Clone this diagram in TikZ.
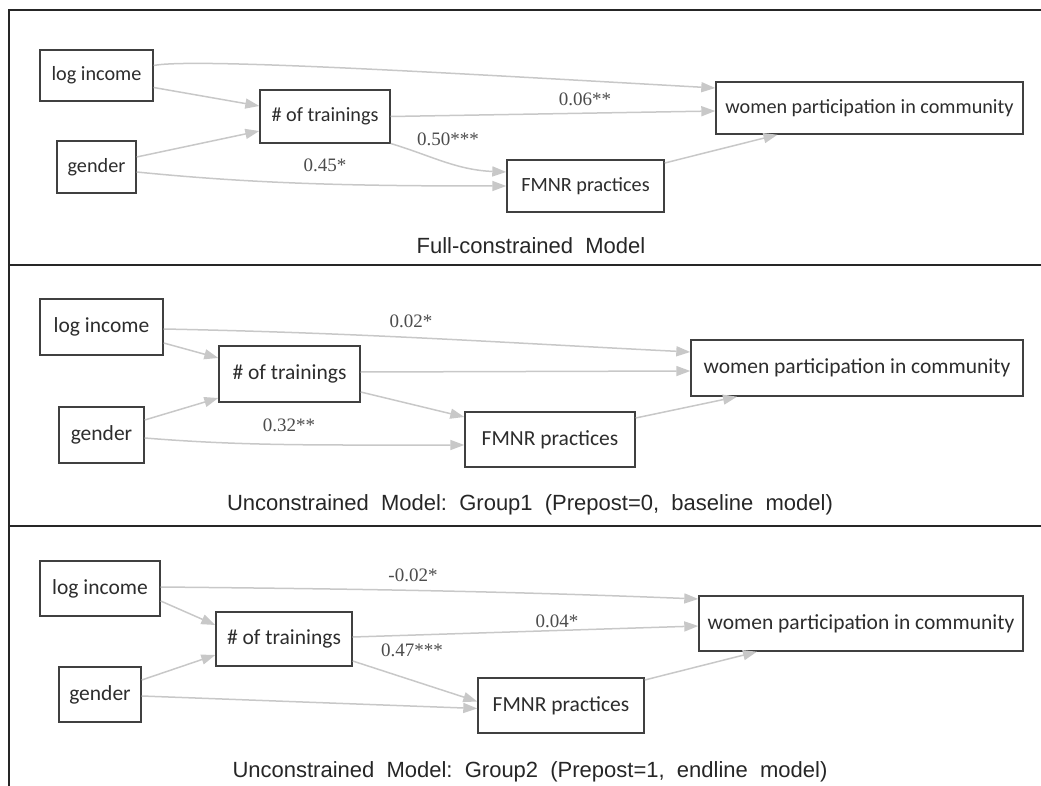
\documentclass[tikz,border=0pt]{standalone}
\usepackage{fontspec}
\usetikzlibrary{arrows.meta}
\newfontfamily\boxfont{Carlito}
\newfontfamily\labfont{Liberation Serif}
\newfontfamily\capfont{Liberation Sans}
\definecolor{arrgray}{RGB}{200,200,200}
\definecolor{boxline}{RGB}{64,64,64}
\definecolor{txtgray}{RGB}{45,45,45}
\tikzset{
  var/.style={draw=boxline, line width=1.4pt, fill=white, inner sep=0pt, text=txtgray,
    font=\boxfont\fontsize{20.2}{23}\selectfont},
  varb/.style={var, font=\boxfont\fontsize{21.5}{25}\selectfont},
  arr/.style={draw=arrgray, line width=1.5pt, -{Triangle[length=14pt,width=10pt]}},
  coef/.style={inner sep=0pt, text=txtgray!85, font=\labfont\fontsize{19}{21}\selectfont},
  captxt/.style={inner sep=0pt, text=black!85, font=\capfont\fontsize{22}{26}\selectfont},
  frameline/.style={draw=black!85, line width=2pt}
}
\begin{document}
\begin{tikzpicture}[x=1pt,y=-1pt]
\useasboundingbox (0,0) rectangle (1041,786);
% frame
\draw[frameline] (1041,10.5) -- (9,10.5) -- (9,786);
\draw[frameline] (9,265) -- (1041,265);
\draw[frameline] (9,526) -- (1041,526);

% ---------- Panel 1 ----------
\node[var, minimum width=113pt, minimum height=51pt] (li1) at (96.5,75.5) {log income};
\node[var, minimum width=130pt, minimum height=53pt] (tr1) at (325,116.5) {\# of trainings};
\node[var, minimum width=79pt, minimum height=52pt] (ge1) at (96.5,167) {gender};
\node[var, minimum width=157pt, minimum height=52pt] (fm1) at (585.5,186) {FMNR practices};
\node[var, minimum width=307pt, minimum height=52pt] (wo1) at (869.5,108) {women participation in community};
\draw[arr] ([yshift=10pt]li1.east) .. controls +(40,-8) and +(-250,-14) .. ([yshift=20pt]wo1.west);
\draw[arr] ([yshift=-12pt]li1.east) -- ([yshift=10.5pt]tr1.west);
\draw[arr] ([yshift=10pt]ge1.east) -- ([yshift=-14.5pt]tr1.west);
\draw[arr] ([yshift=-5pt]ge1.east) .. controls +(120,12) and +(-150,0) .. (fm1.west);
\draw[arr] (tr1.east) -- ([yshift=-3pt]wo1.west);
\draw[arr] ([yshift=-27pt]tr1.east) .. controls +(40,12) and +(-50,-2) .. ([yshift=14pt]fm1.west);
\draw[arr] ([yshift=23pt]fm1.east) -- ([xshift=-92pt]wo1.south);
\node[coef] (c1a) at (585,99) {0.06**};
\node[coef] (c1b) at (448,139) {0.50***};
\node[coef] (c1c) at (325,165) {0.45*};
\node[captxt] (cap1) at (531,246) {Full-constrained\ \ Model};

% ---------- Panel 2 ----------
\node[varb, minimum width=123pt, minimum height=56pt] (li2) at (101.5,327) {log income};
\node[varb, minimum width=141pt, minimum height=56pt] (tr2) at (289.5,374) {\# of trainings};
\node[varb, minimum width=85pt, minimum height=56pt] (ge2) at (101.5,435) {gender};
\node[varb, minimum width=170pt, minimum height=55pt] (fm2) at (550,439.5) {FMNR practices};
\node[varb, minimum width=332pt, minimum height=56pt] (wo2) at (857,368) {women participation in community};
\draw[arr] ([yshift=-2pt]li2.east) .. controls +(200,4) and +(-200,-10) .. ([yshift=16pt]wo2.west);
\draw[arr] ([yshift=-16pt]li2.east) -- ([yshift=16pt]tr2.west);
\draw[arr] ([yshift=15pt]ge2.east) -- ([yshift=-24pt]tr2.west);
\draw[arr] ([yshift=-3pt]ge2.east) .. controls +(100,8) and +(-150,0) .. ([yshift=-5.5pt]fm2.west);
\draw[arr] ([yshift=2pt]tr2.east) -- ([yshift=-3pt]wo2.west);
\draw[arr] ([yshift=-18pt]tr2.east) -- ([yshift=22.5pt]fm2.west);
\draw[arr] ([yshift=21.5pt]fm2.east) -- ([xshift=-120pt]wo2.south);
\node[coef] (c2a) at (411,321) {0.02*};
\node[coef] (c2b) at (289,425) {0.32**};
\node[captxt] (cap2) at (530,505) {Unconstrained\ \ Model:\ \ Group1\ \ (Prepost=0,\ \ baseline\ \ model)};

% ---------- Panel 3 ----------
\node[varb, minimum width=120pt, minimum height=55pt] (li3) at (100,588.5) {log income};
\node[varb, minimum width=136pt, minimum height=54pt] (tr3) at (284,639) {\# of trainings};
\node[varb, minimum width=82pt, minimum height=55pt] (ge3) at (100,694.5) {gender};
\node[varb, minimum width=166pt, minimum height=55pt] (fm3) at (561,705.5) {FMNR practices};
\node[varb, minimum width=324pt, minimum height=55pt] (wo3) at (861,623.5) {women participation in community};
\draw[arr] ([yshift=1.5pt]li3.east) .. controls +(200,2) and +(-200,-8) .. ([yshift=24.5pt]wo3.west);
\draw[arr] ([yshift=-12.5pt]li3.east) -- ([yshift=14pt]tr3.west);
\draw[arr] ([yshift=14.5pt]ge3.east) -- ([yshift=-16pt]tr3.west);
\draw[arr] ([yshift=-1.5pt]ge3.east) -- ([yshift=-3pt]fm3.west);
\draw[arr] ([yshift=2pt]tr3.east) -- ([yshift=-2.5pt]wo3.west);
\draw[arr] ([yshift=-22pt]tr3.east) -- ([yshift=4pt]fm3.west);
\draw[arr] ([yshift=25.5pt]fm3.east) -- ([xshift=-104pt]wo3.south);
\node[coef] (c3a) at (413,575) {-0.02*};
\node[coef] (c3b) at (557,621) {0.04*};
\node[coef] (c3c) at (412,650) {0.47***};
\node[captxt] (cap3) at (530,772) {Unconstrained\ \ Model:\ \ Group2\ \ (Prepost=1,\ \ endline\ \ model)};
\end{tikzpicture}
\end{document}
